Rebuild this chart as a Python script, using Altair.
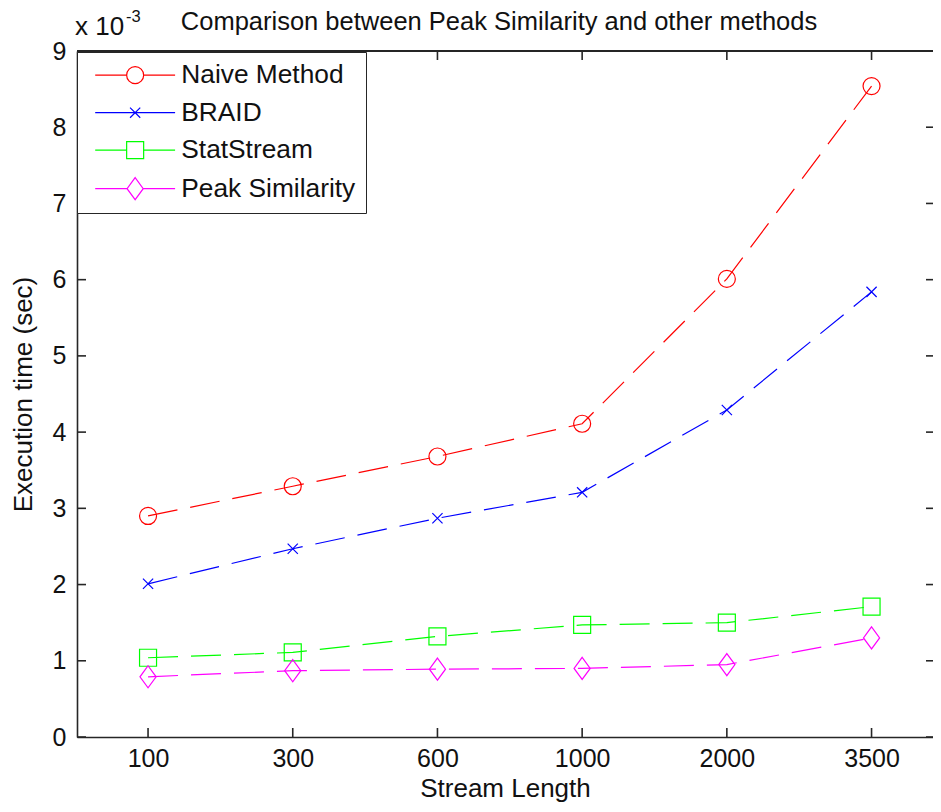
import altair as alt
import pandas as pd

# ---- data ----
lengths = ["100", "300", "600", "1000", "2000", "3500"]
naive = [2.90, 3.29, 3.68, 4.11, 6.01, 8.54]
braid = [2.01, 2.47, 2.87, 3.21, 4.29, 5.84]
statstream = [1.04, 1.11, 1.32, 1.47, 1.50, 1.71]
peak = [0.79, 0.87, 0.89, 0.90, 0.95, 1.30]
series_names = ["Naive Method", "BRAID", "StatStream", "Peak Similarity"]
series_values = [naive, braid, statstream, peak]
colors = ["#ff0000", "#0000ff", "#00ff00", "#ff00ff"]
y_ticks = list(range(0, 10))
title_text = "Comparison between Peak Similarity and other methods"

# marker shapes (unit box)
plot_shapes = [
    "M-1,0A1,1 0 1,1 1,0A1,1 0 1,1 -1,0Z",
    "M-0.6,-0.6L0.6,0.6M0.6,-0.6L-0.6,0.6",
    "M-1,-1H1V1H-1Z",
    "M0,-1.3L0.95,0L0,1.3L-0.95,0Z",
]
legend_shapes = [
    "M-4.7,0H-1A1,1 0 1,1 1,0A1,1 0 1,1 -1,0M1,0H4.7",
    "M-4.7,0H4.7M-0.6,-0.6L0.6,0.6M0.6,-0.6L-0.6,0.6",
    "M-4.7,0H-1M-1,-1H1V1H-1ZM1,0H4.7",
    "M-4.7,0H-0.95M0,-1.3L0.95,0L0,1.3L-0.95,0ZM0.95,0H4.7",
]

rows = []
for name, vals in zip(series_names, series_values):
    for i, v in enumerate(vals):
        rows.append({"idx": i + 1, "length": lengths[i], "series": name, "value": v})
df = pd.DataFrame(rows)

W, H = 856, 686
FONT = "Liberation Sans"
AX = "#262626"
TXT = "#111111"

label_expr = "[" + ",".join("'%s'" % s for s in lengths) + "][datum.value - 1]"

xscale = alt.Scale(domain=[0.509, 0.509 + W / 144.7], nice=False, zero=False)
yscale = alt.Scale(domain=[0, 9], nice=False, zero=True)

x_enc = alt.X(
    "idx:Q",
    scale=xscale,
    axis=alt.Axis(
        values=list(range(1, len(lengths) + 1)),
        labelExpr=label_expr,
        tickSize=0,
        labelPadding=9,
        labelFontSize=25,
        labelFont=FONT,
        labelColor=TXT,
        labelFlush=False,
        labelOverlap=False,
        domainColor=AX,
        domainWidth=1.6,
        grid=False,
        title="Stream Length",
        titleFont=FONT,
        titleFontSize=26,
        titleFontWeight="normal",
        titleColor=TXT,
        titlePadding=4,
    ),
)
y_enc = alt.Y(
    "value:Q",
    scale=yscale,
    axis=alt.Axis(
        values=y_ticks,
        format="d",
        tickSize=0,
        labelPadding=11,
        labelFontSize=25,
        labelFont=FONT,
        labelColor=TXT,
        labelOverlap=False,
        labelFlush=False,
        domainColor=AX,
        domainWidth=1.6,
        grid=False,
        title="Execution time (sec)",
        titleFont=FONT,
        titleFontSize=26,
        titleFontWeight="normal",
        titleColor=TXT,
        titlePadding=16,
    ),
)

color_plain = alt.Color(
    "series:N", scale=alt.Scale(domain=series_names, range=colors), legend=None
)

lines = alt.Chart(df).mark_line(strokeWidth=1.2, strokeDash=[30, 13]).encode(
    x=x_enc, y=y_enc, color=color_plain, detail="series:N"
)

points = alt.Chart(df).mark_point(filled=False, size=289, strokeWidth=1.2, opacity=1).encode(
    x="idx:Q",
    y="value:Q",
    color=color_plain,
    shape=alt.Shape("series:N", scale=alt.Scale(domain=series_names, range=plot_shapes), legend=None),
)

leg = alt.Legend(
    orient="none",
    legendX=0,
    legendY=1,
    title=None,
    padding=10,
    symbolOffset=35,
    labelOffset=33,
    labelFont=FONT,
    labelFontSize=26.3,
    labelColor=TXT,
    labelLimit=500,
    rowPadding=10.5,
    symbolSize=289,
    symbolStrokeWidth=1.2,
    symbolFillColor="transparent",
    strokeColor=AX,
    fillColor="white",
)

legend_layer = (
    alt.Chart(df)
    .transform_filter("false")
    .mark_point(filled=False, size=289, strokeWidth=1.2, opacity=1)
    .encode(
        x="idx:Q",
        y="value:Q",
        color=alt.Color("series:N", scale=alt.Scale(domain=series_names, range=colors), legend=leg),
        shape=alt.Shape("series:N", scale=alt.Scale(domain=series_names, range=legend_shapes), legend=leg),
    )
)

xt = pd.DataFrame({"idx": list(range(1, len(lengths) + 1))})
yt = pd.DataFrame({"value": y_ticks})

top_ticks = alt.Chart(xt).mark_rule(color=AX, strokeWidth=1.6).encode(
    x="idx:Q", y=alt.value(0), y2=alt.value(9)
)
bottom_ticks = alt.Chart(xt).mark_rule(color=AX, strokeWidth=1.6).encode(
    x="idx:Q", y=alt.value(H - 9), y2=alt.value(H)
)
left_ticks = alt.Chart(yt).mark_rule(color=AX, strokeWidth=1.6).encode(
    y="value:Q", x=alt.value(0), x2=alt.value(9)
)
right_ticks = alt.Chart(yt).mark_rule(color=AX, strokeWidth=1.6).encode(
    y="value:Q", x=alt.value(W - 7), x2=alt.value(W)
)
top_spine = alt.Chart(xt).mark_rule(color=AX, strokeWidth=1.6).encode(
    x=alt.value(0), x2=alt.value(W), y=alt.value(0)
)

one = xt.head(1)
title_mark = alt.Chart(one).mark_text(
    text=title_text, font=FONT, fontSize=25.5, align="center", baseline="alphabetic", color=TXT
).encode(x=alt.value(422), y=alt.value(-21))
exp_base = alt.Chart(one).mark_text(
    text="x 10", font=FONT, fontSize=26, align="left", baseline="alphabetic", color=TXT
).encode(x=alt.value(-2), y=alt.value(-16))
exp_sup = alt.Chart(one).mark_text(
    text="-3", font=FONT, fontSize=16.5, align="left", baseline="alphabetic", color=TXT
).encode(x=alt.value(49), y=alt.value(-29))

chart = (
    alt.layer(
        top_spine, top_ticks, bottom_ticks, left_ticks, right_ticks,
        lines, points, legend_layer, title_mark, exp_base, exp_sup,
    )
    .resolve_scale(color="independent", shape="independent")
    .properties(
        width=W,
        height=H,
        autosize=alt.AutoSizeParams(type="none"),
        padding={"left": 69, "top": 43, "right": 0, "bottom": 67},
        background="white",
    )
    .configure_view(stroke=None)
)

chart.save("out.html", embed_options={"renderer": "svg", "actions": False})
